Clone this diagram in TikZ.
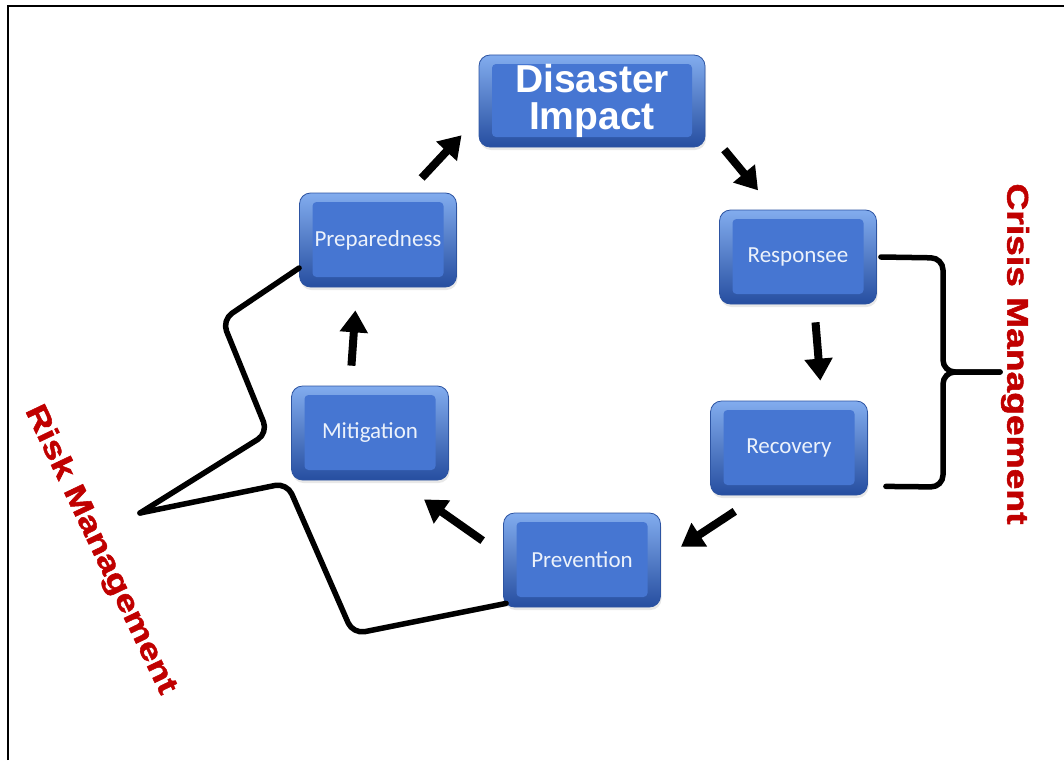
\documentclass[tikz,border=0pt]{standalone}
\usepackage{fontspec}
\setmainfont{Liberation Sans}
\newfontfamily\boxfont{Carlito}
\newfontfamily\heavyfont[BoldFeatures={FakeBold=1.5}]{Liberation Sans}
\usetikzlibrary{arrows.meta,shadows}

\definecolor{boxface}{RGB}{70,118,210}
\definecolor{boxtop}{RGB}{130,172,238}
\definecolor{boxbottom}{RGB}{38,78,160}
\definecolor{boxline}{RGB}{45,84,162}
\definecolor{boxtext}{RGB}{236,242,251}
\definecolor{labelred}{RGB}{192,0,0}

\tikzset{
  phase/.style={rectangle, rounded corners=11pt, minimum width=157pt, minimum height=94pt,
    inner sep=0pt, draw=boxline, line width=0.8pt, top color=boxtop, bottom color=boxbottom,
    drop shadow={opacity=0.18, shadow xshift=1pt, shadow yshift=-3pt},
    path picture={\fill[boxface, rounded corners=4pt] ([shift={(13,9)}]path picture bounding box.north west)
      rectangle ([shift={(-13,-10)}]path picture bounding box.south east);},
    font=\boxfont\fontsize{23}{26}\selectfont, text=boxtext},
  flow/.style={line width=8pt, -{Triangle[width=27pt,length=22pt]}},
  brace/.style={line width=5.5pt, line join=round, line cap=round, rounded corners=12pt},
  group/.style={font=\heavyfont\bfseries\fontsize{30}{32}\selectfont, text=labelred}
}

\begin{document}
\begin{tikzpicture}[x=1pt, y=-1pt]
\useasboundingbox (0,0) rectangle (1064,760);

% Frame (left and top edges only)
\draw[line width=2.5pt] (8,760) -- (8,6) -- (1064,6);

% The cycle
\node[phase, minimum width=226pt, minimum height=92pt, align=center, text=white,
  font=\bfseries\fontsize{39}{37}\selectfont] (impact) at (592,101) {Disaster\\Impact};
\node[phase] (respond) at (798,257) {Responsee};
\node[phase] (recover) at (789,448) {Recovery};
\node[phase] (prevent) at (582,560) {Prevention};
\node[phase] (mitigate) at (370,433) {Mitigation};
\node[phase] (prepare) at (378,240) {Preparedness};

% Arrows between the phases
\draw[flow, shorten <=20pt, shorten >=25pt] ([shift={(30,0)}]prepare.north) -- ([shift={(0,16)}]impact.west);
\draw[flow, shorten <=3pt, shorten >=25pt] ([shift={(17,0)}]impact.south east) -- ([shift={(-24,0)}]respond.north);
\draw[flow, shorten <=18pt, shorten >=20pt] ([shift={(16,0)}]respond.south) -- ([shift={(33,0)}]recover.north);
\draw[flow, shorten <=29pt, shorten >=24pt] ([shift={(-30,0)}]recover.south) -- (prevent.east);
\draw[flow, shorten <=25pt, shorten >=33pt] ([shift={(0,-5)}]prevent.west) -- ([shift={(27,0)}]mitigate.south);
\draw[flow, shorten <=20pt, shorten >=23pt] ([shift={(-20,0)}]mitigate.north) -- ([shift={(-21,0)}]prepare.south);

% Crisis management brace
\coordinate (crisis tip) at (1000,372);
\draw[brace] ([shift={(4,0)}]respond.east) -- (943,258) -- (943,372) -- (crisis tip);
\draw[brace] (crisis tip) -- (943,372) -- (943,487) -- ([shift={(18,-9)}]recover.south east);
\node[group, rotate=-90] (crisis) at (1015,354) {\scalebox{1.24}[1]{Crisis Management}};

% Risk management brace
\coordinate (risk tip) at (140,513);
\draw[brace] ([shift={(0,28)}]prepare.west) -- (222,320) -- (268,433) -- (risk tip);
\draw[brace] (risk tip) -- (287,483) -- (353,634) -- ([shift={(3,-4)}]prevent.south west);
\node[group, rotate=-64.5] (risk) at (100,550) {\scalebox{1.24}[1]{Risk Management}};
\end{tikzpicture}
\end{document}
